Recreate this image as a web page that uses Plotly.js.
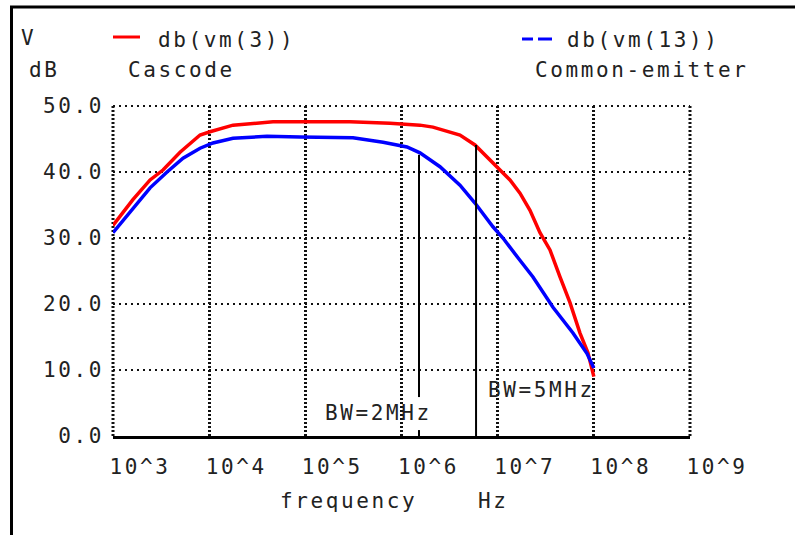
<!DOCTYPE html>
<html><head><meta charset="utf-8">
<script src="https://cdn.plot.ly/plotly-3.0.1.min.js"></script>
<style>
html,body{margin:0;padding:0;background:#fff;}
svg text{letter-spacing:2.6px;}
</style></head>
<body><div id="chart" style="width:795px;height:535px;"></div>
<script>
// ---- data ----
const cascodeFreq = [1000, 1270, 1610, 2430, 3310, 4980, 8040, 10200, 17700, 46100, 291000, 759000,
  1556000, 2123000, 3192000, 4055000, 5808000, 8933000, 11350000, 13430000, 17060000, 21680000,
  27540000, 34990000, 44460000, 56490000, 71780000, 86900000, 100000000];
const cascodeDb = [31.9, 33.9, 35.8, 38.8, 40.3, 43.0, 45.6, 46.1, 47.1, 47.6, 47.6, 47.4,
  47.1, 46.8, 46.1, 45.6, 44.1, 41.4, 39.8, 38.8, 36.8, 34.2,
  30.8, 28.2, 24.1, 20.2, 15.6, 12.6, 9.0];
const ceFreq = [1000, 1610, 2430, 3650, 5350, 8040, 10960, 17700, 39900, 87900, 313000, 643000,
  1140000, 1556000, 2512000, 4055000, 5808000, 8933000, 11350000, 16260000, 23280000, 37580000,
  60670000, 84920000, 100000000];
const ceDb = [30.8, 34.5, 37.6, 40.0, 42.1, 43.6, 44.4, 45.1, 45.4, 45.3, 45.2, 44.5,
  43.8, 42.9, 40.8, 38.0, 35.3, 31.7, 30.0, 27.0, 24.1, 19.5,
  15.6, 12.5, 10.3];
const xTickVals = [1e3, 1e4, 1e5, 1e6, 1e7, 1e8, 1e9];
const xTickText = ['10^3', '10^4', '10^5', '10^6', '10^7', '10^8', '10^9'];
const yTickVals = [0, 10, 20, 30, 40, 50];
const bwFreq = [1520000, 5960000];
const bwTopDb = [42.6, 44.1];
const bwLabels = ['BW=2MHz', 'BW=5MHz'];
const seriesNames = ['db(vm(3))', 'db(vm(13))'];
const seriesNotes = ['Cascode', 'Common-emitter'];

// ---- layout geometry (pixels) ----
const L = 113, R = 690, T = 106, B = 436;
const W = R - L, H = B - T;
const px = x => (x - L) / W;
const py = y => (B - y) / H;
const FONT = 'DejaVu Sans Mono, Liberation Mono, monospace';
const TXT = '#222';
const FS = 21;

function ann(text, left, cy) {
  return {text: text, xref: 'paper', yref: 'paper', x: px(left), y: py(cy),
    xanchor: 'left', yanchor: 'middle', showarrow: false, borderpad: 0,
    font: {family: FONT, size: FS, color: TXT}};
}

const traces = [
  {x: cascodeFreq, y: cascodeDb, type: 'scatter', mode: 'lines', name: seriesNames[0],
   line: {color: '#ff0000', width: 3.5}, hoverinfo: 'skip'},
  {x: ceFreq, y: ceDb, type: 'scatter', mode: 'lines', name: seriesNames[1],
   line: {color: '#0000ff', width: 3.5}, hoverinfo: 'skip'}
];

const vGrid = {color: '#111', width: 3, dash: '2px,2px'};
const hGrid = {color: '#111', width: 2, dash: '2px,4px'};

const shapes = [
  // edge grid lines (left, right, top)
  {type: 'line', xref: 'paper', yref: 'paper', x0: 0, x1: 0, y0: 0, y1: 1, line: vGrid, layer: 'below'},
  {type: 'line', xref: 'paper', yref: 'paper', x0: 1, x1: 1, y0: 0, y1: 1, line: vGrid, layer: 'below'},
  {type: 'line', xref: 'paper', yref: 'paper', x0: 0, x1: 1, y0: 1, y1: 1, line: hGrid, layer: 'below'},
  // BW marker lines
  {type: 'line', xref: 'x', yref: 'y', x0: bwFreq[0], x1: bwFreq[0], y0: 5.9, y1: bwTopDb[0],
   line: {color: '#000', width: 2}},
  {type: 'line', xref: 'x', yref: 'y', x0: bwFreq[0], x1: bwFreq[0], y0: -1.8, y1: 0.9,
   line: {color: '#000', width: 2}},
  {type: 'line', xref: 'x', yref: 'y', x0: bwFreq[1], x1: bwFreq[1], y0: -1.7, y1: bwTopDb[1],
   line: {color: '#000', width: 2}},
  // legend samples
  {type: 'line', xref: 'paper', yref: 'paper', x0: px(113), x1: px(140), y0: py(37), y1: py(37),
   line: {color: '#ff0000', width: 3}},
  {type: 'line', xref: 'paper', yref: 'paper', x0: px(522), x1: px(533), y0: py(39), y1: py(39),
   line: {color: '#0000ff', width: 3}},
  {type: 'line', xref: 'paper', yref: 'paper', x0: px(538), x1: px(552), y0: py(39), y1: py(39),
   line: {color: '#0000ff', width: 3}},
  // outer frame (left and top)
  {type: 'line', xref: 'paper', yref: 'paper', x0: px(11.5), x1: px(11.5), y0: py(540), y1: py(7),
   line: {color: '#000', width: 3}},
  {type: 'line', xref: 'paper', yref: 'paper', x0: px(10), x1: px(800), y0: py(7), y1: py(7),
   line: {color: '#000', width: 3}}
];

const annotations = [
  ann('V', 20, 38),
  ann('dB', 28, 70),
  ann(seriesNames[0], 157, 40),
  ann(seriesNotes[0], 127, 70),
  ann(seriesNames[1], 566, 40),
  ann(seriesNotes[1], 534, 70),
  ann('frequency', 279, 501),
  ann('Hz', 477, 501),
  ann(bwLabels[0], 324, 413),
  ann(bwLabels[1], 487, 390)
];

const layout = {
  width: 795, height: 535,
  margin: {l: L, r: 795 - R, t: T, b: 535 - B, pad: 0},
  paper_bgcolor: '#fff', plot_bgcolor: '#fff',
  showlegend: false,
  font: {family: FONT, size: FS, color: TXT},
  xaxis: {
    type: 'log', range: [3, 9], tickvals: xTickVals, ticktext: xTickText,
    showgrid: true, gridcolor: vGrid.color, gridwidth: vGrid.width, griddash: vGrid.dash,
    showline: true, linecolor: '#000', linewidth: 2.5,
    ticks: '', zeroline: false, ticklabelshift: 27, ticklabelstandoff: 10,
    tickfont: {family: FONT, size: FS, color: TXT}, fixedrange: true
  },
  yaxis: {
    range: [0, 50], tickvals: yTickVals, tickformat: '.1f',
    showgrid: true, gridcolor: hGrid.color, gridwidth: hGrid.width, griddash: hGrid.dash,
    showline: false, zeroline: false, ticks: '', ticklabelstandoff: 8,
    tickfont: {family: FONT, size: FS, color: TXT}, fixedrange: true
  },
  shapes: shapes,
  annotations: annotations
};

Plotly.newPlot('chart', traces, layout, {displayModeBar: false, staticPlot: true});
</script>
</body></html>
